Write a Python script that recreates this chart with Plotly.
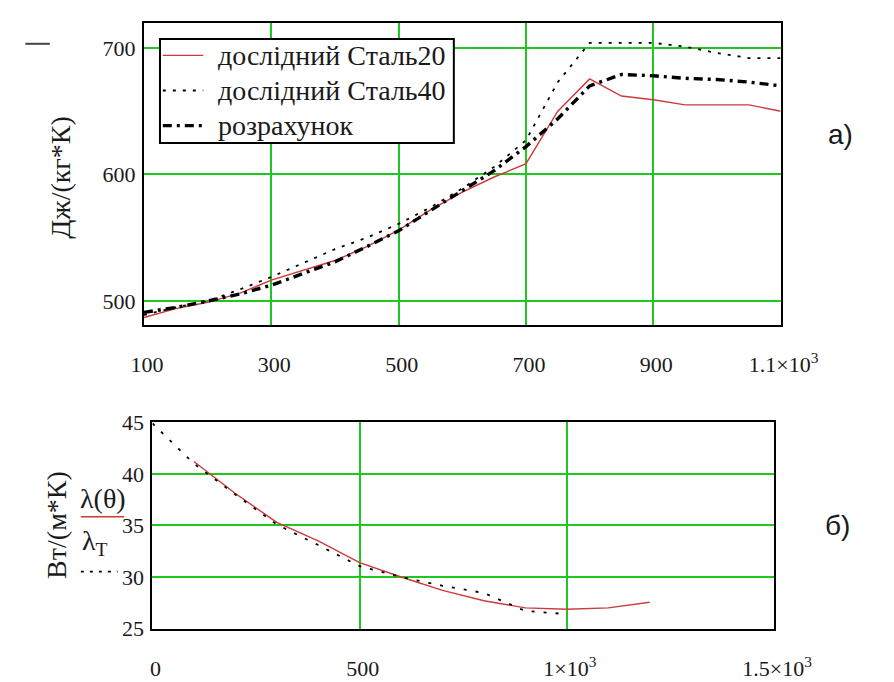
import plotly.graph_objects as go

# --- upper panel: specific heat, J/(kg*K) vs temperature ---
temp_c = [100, 150, 200, 250, 300, 350, 400, 450, 500, 550, 600,
          650, 700, 750, 800, 850, 900, 950, 1000, 1050, 1100]
cp_steel20 = [487, 494, 499, 506, 516.5, 524, 532, 543, 556, 572, 586,
              598, 608.5, 650, 675.5, 662, 659, 655, 655, 655, 650]
cp_steel40 = [489, 495, 500, 509, 519, 530, 541, 550, 561, 574, 589,
              606, 627, 673, 704, 704, 704, 701, 696, 692, 692]
cp_calc = [491, 495, 500, 505.5, 512.5, 522, 531, 543, 555.5, 571.5, 587,
           603, 622, 644, 670, 679, 678, 676, 675, 673, 670]

top_xticks = [100, 300, 500, 700, 900, 1100]
top_xlabels = ["100", "300", "500", "700", "900", "1.1×10<sup>3</sup>"]
top_yticks = [500, 600, 700]

# --- lower panel: thermal conductivity, W/(m*K) vs temperature ---
theta = [100, 200, 300, 400, 500, 600, 700, 800, 900, 1000, 1100, 1200]
lam_theta = [41.2, 38.1, 35.3, 33.5, 31.4, 30.0, 28.7, 27.7, 27.0, 26.87, 27.0, 27.55]
theta_t = [0, 100, 200, 300, 400, 500, 600, 700, 800, 900, 1000]
lam_t = [44.9, 41.0, 38.0, 35.1, 33.1, 31.05, 30.0, 29.15, 28.45, 26.7, 26.4]

bot_xticks = [0, 500, 1000, 1500]
bot_xlabels = ["0", "500", "1×10<sup>3</sup>", "1.5×10<sup>3</sup>"]
bot_yticks = [25, 30, 35, 40, 45]

W, H = 894, 682
SERIF = "Liberation Serif"
SANS = "Liberation Sans"
GRID = "#1fc71f"
RED = "#cc3a3a"
INK = "#1a1a1a"

# line styles shared by the traces and their legend keys
style_st20 = dict(color=RED, width=1.4)
style_st40 = dict(color="black", width=1.8, dash="3px,7px")
style_calc = dict(color="black", width=3.4, dash="9px,5px,3px,5px")
style_lam = dict(color=RED, width=1.4)
style_lam_t = dict(color="black", width=1.8, dash="3px,9px")
series = [("дослідний Сталь20", cp_steel20, style_st20),
          ("дослідний Сталь40", cp_steel40, style_st40),
          ("розрахунок", cp_calc, style_calc)]


def px(x):
    return x / W


def py(y):
    return 1 - y / H


fig = go.Figure()

for name, vals, style in series:
    fig.add_trace(go.Scatter(x=temp_c, y=vals, mode="lines", name=name, showlegend=False,
                             line=style, xaxis="x", yaxis="y"))

fig.add_trace(go.Scatter(x=theta, y=lam_theta, mode="lines", name="λ(θ)", showlegend=False,
                         line=style_lam, xaxis="x2", yaxis="y2"))
fig.add_trace(go.Scatter(x=theta_t, y=lam_t, mode="lines", name="λT", showlegend=False,
                         line=style_lam_t, xaxis="x2", yaxis="y2"))

axis_common = dict(showline=True, mirror=True, linecolor="black", linewidth=2,
                   showgrid=True, gridcolor=GRID, gridwidth=2, zeroline=False,
                   tickfont=dict(family=SERIF, size=22, color=INK), ticks="")

fig.update_layout(
    width=W, height=H,
    margin=dict(l=0, r=0, t=0, b=0),
    paper_bgcolor="white", plot_bgcolor="white",
    showlegend=False,
    xaxis=dict(domain=[px(138), px(814)], range=[100, 1100], anchor="y",
               tickmode="array", tickvals=top_xticks, ticktext=top_xlabels,
               ticklabelstandoff=19, ticklabelshift=3, **axis_common),
    yaxis=dict(domain=[py(325), py(11)], range=[481, 720], anchor="x",
               tickmode="array", tickvals=top_yticks, ticklabelstandoff=2, **axis_common),
    xaxis2=dict(domain=[px(147), px(807)], range=[0, 1500], anchor="y2",
                tickmode="array", tickvals=bot_xticks, ticktext=bot_xlabels,
                ticklabelstandoff=19, ticklabelshift=3, **axis_common),
    yaxis2=dict(domain=[py(640), py(426)], range=[25, 45], anchor="x2",
                tickmode="array", tickvals=bot_yticks, ticklabelstandoff=2, **axis_common),
)

# legend box of the upper panel
fig.add_shape(type="rect", xref="paper", yref="paper",
              x0=px(155), x1=px(467), y0=py(136), y1=py(28),
              fillcolor="white", line=dict(color="black", width=2))
for i, (name, _, style) in enumerate(series):
    row_y = py(45 + 36.5 * i)
    fig.add_shape(type="line", xref="paper", yref="paper", x0=px(158), x1=px(201),
                  y0=row_y, y1=row_y, line=style)
    fig.add_annotation(text=name, x=px(214), y=row_y, xref="paper", yref="paper",
                       xanchor="left", yanchor="middle", showarrow=False,
                       font=dict(family=SERIF, size=28, color=INK))

annotations = [
    dict(text="Дж/(кг*К)", x=px(50), y=py(172), textangle=-90),
    dict(text="Вт/(м*К)", x=px(45), y=py(532), textangle=-90),
    dict(text="λ(θ)", x=px(94), y=py(505)),
    dict(text="λ<sub>T</sub>", x=px(86), y=py(551)),
]
for a in annotations:
    fig.add_annotation(xref="paper", yref="paper", showarrow=False,
                       xanchor="center", yanchor="middle",
                       font=dict(family=SERIF, size=28, color=INK), **a)

for label, lx, ly in [("а)", 878, 127), ("б)", 874, 533)]:
    fig.add_annotation(text=label, x=px(lx), y=py(ly), xref="paper", yref="paper",
                       xanchor="center", yanchor="middle", showarrow=False,
                       font=dict(family=SANS, size=28, color=INK))

# line-style keys beside the lower panel's axis label
fig.add_shape(type="line", xref="paper", yref="paper", x0=px(71), x1=px(117),
              y0=py(524), y1=py(524), line=dict(color=RED, width=1.6))
fig.add_shape(type="line", xref="paper", yref="paper", x0=px(71), x1=px(110),
              y0=py(581), y1=py(581), line=dict(color="black", width=1.8, dash="3px,6px"))

# small grey dash at the upper-left corner
fig.add_shape(type="line", xref="paper", yref="paper", x0=px(12), x1=px(38),
              y0=py(33), y1=py(33), line=dict(color="#444", width=2))

fig.write_html("out.html")
